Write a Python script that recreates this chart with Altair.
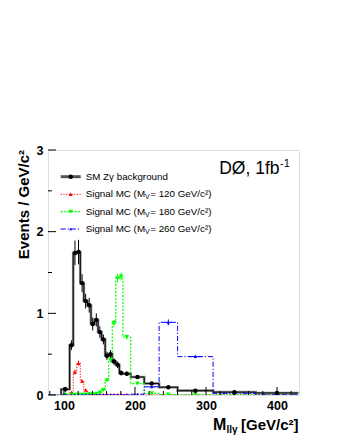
import altair as alt
import pandas as pd

# ---------------- data ----------------
edges = [80, 96, 108, 113, 118, 123, 128, 133, 138, 143, 148, 153, 158, 163,
         168, 173, 178, 183, 194, 213, 234, 260, 310, 370, 430]

bkg = [0.0, 0.07, 0.61, 1.74, 1.75, 1.37, 1.15, 1.10, 0.87, 0.92, 0.77, 0.68,
       0.48, 0.50, 0.41, 0.37, 0.27, 0.26, 0.22, 0.14, 0.095, 0.053, 0.035, 0.025]
bkg_err = [0.0, 0.03, 0.06, 0.15, 0.15, 0.11, 0.09, 0.09, 0.08, 0.08, 0.07, 0.06,
           0.05, 0.05, 0.04, 0.04, 0.03, 0.025, 0.02, 0.015, 0.012, 0.008, 0.005, 0.005]

sig120 = [0.0, 0.005, 0.03, 0.28, 0.39, 0.17, 0.06, 0.02, 0.01, 0.005, 0.004, 0.004,
          0.003, 0.003, 0.003, 0.002, 0.002, 0.002, 0.002, 0.001, 0.001, 0.001, 0.001, 0.001]
sig120_err = [0.0, 0.0, 0.01, 0.03, 0.03, 0.02, 0.01, 0.005, 0.0, 0.0, 0.0, 0.0,
              0.0, 0.0, 0.0, 0.0, 0.0, 0.0, 0.0, 0.0, 0.0, 0.0, 0.0, 0.0]

sig180 = [0.0, 0.002, 0.002, 0.003, 0.003, 0.004, 0.005, 0.006, 0.008, 0.015, 0.03, 0.06,
          0.18, 0.43, 0.88, 1.43, 1.45, 0.71, 0.14, 0.02, 0.006, 0.003, 0.002, 0.001]
sig180_err = [0.0, 0.0, 0.0, 0.0, 0.0, 0.0, 0.0, 0.0, 0.0, 0.005, 0.01, 0.01,
              0.02, 0.03, 0.04, 0.05, 0.05, 0.03, 0.01, 0.005, 0.0, 0.0, 0.0, 0.0]

sig260 = [0.0, 0.001, 0.001, 0.001, 0.001, 0.001, 0.001, 0.001, 0.001, 0.001, 0.001, 0.001,
          0.001, 0.002, 0.002, 0.002, 0.002, 0.003, 0.01, 0.10, 0.89, 0.47, 0.02, 0.003]
sig260_err = [0.0, 0.0, 0.0, 0.0, 0.0, 0.0, 0.0, 0.0, 0.0, 0.0, 0.0, 0.0,
              0.0, 0.0, 0.0, 0.0, 0.0, 0.0, 0.003, 0.01, 0.035, 0.02, 0.003, 0.0]

legend_bkg = "SM Z\u03b3 background"
signal_masses = ["120", "180", "260"]
x_tick_labels = [100, 200, 300, 400]
y_tick_labels = [0, 1, 2, 3]
x_minor = [v for v in range(80, 430, 20) if v % 100 != 0]
y_minor = [0.5, 1.5, 2.5]

FONT = "Liberation Sans"
W, H = 251, 245
RED, GREEN, BLUE = "#ff0000", "#00ff00", "#0000ff"

xs = alt.Scale(domain=[77.5, 431], nice=False, zero=False)
ys = alt.Scale(domain=[0, 3], nice=False, zero=False)
x_axis = alt.Axis(values=x_tick_labels, format="d", labelFont=FONT, labelFontWeight="bold",
                  labelFontSize=12.5, labelColor="black", ticks=False, domain=False, grid=False,
                  labelPadding=4, labelFlush=False, title=None)
y_axis = alt.Axis(values=y_tick_labels, format="d", labelFont=FONT, labelFontWeight="bold",
                  labelFontSize=12.5, labelColor="black", ticks=False, domain=False, grid=False,
                  labelPadding=5, labelFlush=False, title=None)


def X(f):
    return alt.X(f, scale=xs, axis=x_axis)


def Y(f):
    return alt.Y(f, scale=ys, axis=y_axis)


def bins_df(vals, errs, name):
    lo = edges[:-1]
    hi = edges[1:]
    c = [(a + b) / 2 for a, b in zip(lo, hi)]
    return pd.DataFrame({"lo": lo, "hi": hi, "c": c, "v": vals, "e": errs,
                         "ylo": [v - e for v, e in zip(vals, errs)],
                         "yhi": [v + e for v, e in zip(vals, errs)], "s": name})


def step_df(vals, name, start=0):
    xv = [edges[start]] + edges[start:]
    yv = [0.0] + vals[start:] + [vals[-1]]
    return pd.DataFrame({"x": xv, "y": yv, "i": list(range(len(xv))), "s": name})


def step_line(vals, name, color, width, dash=None, start=0):
    kw = dict(interpolate="step-after", color=color, strokeWidth=width, clip=True)
    if dash:
        kw["strokeDash"] = dash
    return alt.Chart(step_df(vals, name, start)).mark_line(**kw).encode(
        x=X("x:Q"), y=Y("y:Q"), order=alt.Order("i:Q"))


def err_bars(df, color):
    d = df[df["e"] > 0]
    return alt.Chart(d).mark_rule(color=color, strokeWidth=1, clip=True).encode(
        x=X("c:Q"), y=Y("ylo:Q"), y2="yhi:Q")


def points(df, color, shape, size):
    return alt.Chart(df).mark_point(filled=True, color=color, shape=shape, size=size,
                                    opacity=1, clip=True).encode(x=X("c:Q"), y=Y("v:Q"))


b_df = bins_df(bkg, bkg_err, "bkg")
b_pts = b_df[b_df["v"] > 0]
r_df = bins_df(sig120, sig120_err, "120")
g_df = bins_df(sig180, sig180_err, "180")
bl_df = bins_df(sig260, sig260_err, "260")
r_pts = r_df[r_df["v"] > 0]
g_pts = g_df[g_df["v"] > 0]
bl_pts = bl_df[bl_df["v"] > 0]

# horizontal error bars of the 260 signal
bl_h = bl_df[bl_df["v"] > 0.05].copy()
bl_h["xlo"] = bl_h["c"] - 0.2 * (bl_h["hi"] - bl_h["lo"])
bl_h["xhi"] = bl_h["c"] + 0.2 * (bl_h["hi"] - bl_h["lo"])
bl_hbar = alt.Chart(bl_h).mark_rule(color=BLUE, strokeWidth=1).encode(
    x=X("xlo:Q"), x2="xhi:Q", y=Y("v:Q"))

layers = [
    step_line(bkg, "bkg", "#8a8a8a", 2.6, start=1),
    step_line(bkg, "bkg", "black", 1.0, start=1),
    step_line(sig120, "120", RED, 1.0, [1.2, 1.5]),
    step_line(sig180, "180", GREEN, 1.2, [2, 1.5]),
    step_line(sig260, "260", BLUE, 1.0, [5, 2, 1.2, 2]),
    err_bars(r_df, RED),
    err_bars(g_df, GREEN),
    err_bars(bl_df, BLUE),
    bl_hbar,
    err_bars(b_df, "black"),
    points(r_pts, RED, "triangle-up", 16),
    points(g_pts, GREEN, "triangle-down", 22),
    points(bl_pts, BLUE, "triangle-up", 10),
    points(b_pts, "black", "circle", 20),
]

# inner ticks (ROOT style)
tick_x_major = alt.Chart(pd.DataFrame({"t": x_tick_labels})).mark_rule(color="black").encode(
    x=X("t:Q"), y=alt.value(H), y2=alt.value(H - 8))
tick_x_minor = alt.Chart(pd.DataFrame({"t": x_minor})).mark_rule(color="black").encode(
    x=X("t:Q"), y=alt.value(H), y2=alt.value(H - 4))
tick_y_major = alt.Chart(pd.DataFrame({"t": y_tick_labels})).mark_rule(color="black").encode(
    y=Y("t:Q"), x=alt.value(0), x2=alt.value(8))
tick_y_minor = alt.Chart(pd.DataFrame({"t": y_minor})).mark_rule(color="black").encode(
    y=Y("t:Q"), x=alt.value(0), x2=alt.value(4))
layers += [tick_x_major, tick_x_minor, tick_y_major, tick_y_minor]


def txt(s, x, y, size, align="left", baseline="middle", weight="normal", angle=0, color="black"):
    kw = dict(font=FONT, fontSize=size, align=align, baseline=baseline,
              fontWeight=weight, color=color)
    if angle:
        kw["angle"] = angle
    return alt.Chart(pd.DataFrame({"t": [s]})).mark_text(**kw).encode(
        text="t:N", x=alt.value(x), y=alt.value(y))


# legend
LFS = 9.8
rows_y = [26.7, 44.3, 61.7, 79.0]
legend_styles = [("#555555", 3.0, None, "black", "circle", 20),
                 (RED, 1.0, [1.2, 1.5], RED, "triangle-up", 16),
                 (GREEN, 1.2, [2, 1.5], GREEN, "triangle-down", 22),
                 (BLUE, 1.0, [5, 2, 1.2, 2], BLUE, "triangle-up", 10)]
for k, (lc, lw, dash, mc, shape, msize) in enumerate(legend_styles):
    ry = rows_y[k]
    kw = dict(color=lc, strokeWidth=lw)
    if dash:
        kw["strokeDash"] = dash
    layers.append(alt.Chart(pd.DataFrame({"a": [0]})).mark_rule(**kw).encode(
        x=alt.value(12.7), x2=alt.value(32.7), y=alt.value(ry)))
    layers.append(alt.Chart(pd.DataFrame({"a": [0]})).mark_point(
        filled=True, color=mc, shape=shape, size=msize, opacity=1).encode(
        x=alt.value(22.7), y=alt.value(ry)))
    if k == 0:
        layers.append(txt(legend_bkg, 37.7, ry, LFS))
    else:
        m = signal_masses[k - 1]
        x1 = 37.7
        xv = x1 + 6.056 * LFS
        x3 = xv + 0.667 * 7 + 0.5
        layers.append(txt("Signal MC (M", x1, ry, LFS))
        layers.append(txt("V", xv, ry + 3, 7))
        layers.append(txt(" = " + m + " GeV/c\u00b2)", x3, ry, LFS))

# experiment label
layers.append(txt("D\u00d8, 1fb", 231.5, 24.3, 17.5, align="right", baseline="alphabetic"))
layers.append(txt("-1", 232, 16.5, 11, baseline="alphabetic"))

# axis titles
layers.append(txt("Events / GeV/c\u00b2", -18.7, 0, 15, align="right", baseline="alphabetic",
                  weight="bold", angle=270))
layers.append(txt("M", 165, 280, 16, baseline="alphabetic", weight="bold"))
layers.append(txt("ll\u03b3", 178.4, 283.3, 10, baseline="alphabetic", weight="bold"))
layers.append(txt("[GeV/c\u00b2]", 250.5, 280, 15, align="right", baseline="alphabetic",
                  weight="bold"))

chart = alt.layer(*layers).properties(
    width=W, height=H,
    autosize=alt.AutoSizeParams(type="none"),
    padding={"left": 40, "top": 142, "right": 30, "bottom": 45},
).configure_view(stroke="black", strokeWidth=1.5).configure(background="white")

chart.save("out.html", embed_options={"renderer": "svg", "actions": False})
